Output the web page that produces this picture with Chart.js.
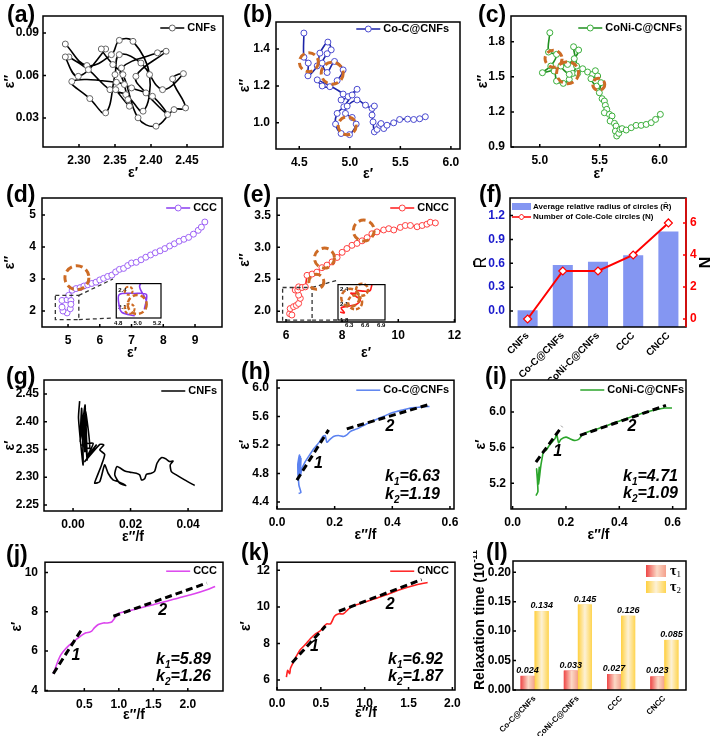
<!DOCTYPE html>
<html>
<head>
<meta charset="utf-8">
<script src="https://cdn.jsdelivr.net/npm/chart.js@4.4.1/dist/chart.umd.min.js"></script>
<style>
body { margin: 0; background: #fff; }
#fig { position: relative; width: 710px; height: 736px; overflow: hidden; }
#fig canvas { position: absolute; }
.tag { position: absolute; font: bold 23px Arial, 'Liberation Sans', sans-serif; line-height: 1; }
</style>
</head>
<body>
<div id="fig"></div>
<script>
// (a) Cole-Cole, CNFs
const aX = [2.281,2.311,2.345,2.356,2.375,2.398,2.389,2.365,2.343,2.313,2.286,2.281,2.299,2.337,2.331,2.347,2.361,2.382,2.407,2.432,2.448,2.430,2.445,2.416,2.386,2.356,2.350,2.337,2.315,2.290,2.352,2.373,2.402,2.423,2.393,2.379,2.421,2.409,2.359,2.363,2.368,2.370,2.351];
const aY = [0.0822,0.0670,0.0747,0.0848,0.0841,0.0606,0.0348,0.0465,0.0500,0.0641,0.0731,0.0731,0.0594,0.0787,0.0787,0.0677,0.0606,0.0301,0.0242,0.0359,0.0371,0.0576,0.0613,0.0500,0.0688,0.0747,0.0606,0.0336,0.0437,0.0557,0.0552,0.0512,0.0453,0.0324,0.0477,0.0594,0.0771,0.0760,0.0653,0.0536,0.0430,0.0383,0.0500];
const aTickX = [2.30, 2.35, 2.40, 2.45];
const aTickY = [0.03, 0.06, 0.09];

// (b) Co-C@CNFs
const bX = [4.546,4.546,4.589,4.586,4.678,4.704,4.783,4.816,4.776,4.727,4.776,4.849,4.934,4.875,4.803,4.727,4.678,4.934,4.914,4.984,5.072,5.023,4.941,4.875,4.859,4.914,4.997,5.063,5.023,4.957,4.974,5.072,5.155,5.220,5.243,5.220,5.230,5.243,5.270,5.296,5.309,5.336,5.368,5.434,5.493,5.572,5.632,5.691,5.747];
const bY = [1.487,1.356,1.324,1.255,1.309,1.378,1.438,1.396,1.375,1.324,1.273,1.333,1.287,1.229,1.196,1.200,1.233,1.156,1.124,1.142,1.182,1.151,1.087,1.051,0.993,0.942,0.936,0.993,1.029,1.051,1.091,1.124,1.096,1.078,1.091,1.042,1.005,0.951,0.964,0.987,0.996,0.969,0.987,1.000,1.018,1.020,1.018,1.022,1.033];
const bTickX = [4.5, 5.0, 5.5, 6.0];
const bTickY = [1.0, 1.2, 1.4];

// (c) CoNi-C@CNFs
const cX = [5.084,5.073,5.140,5.092,5.022,5.120,5.140,5.196,5.246,5.274,5.307,5.282,5.324,5.288,5.232,5.176,5.246,5.316,5.358,5.399,5.441,5.464,5.483,5.427,5.475,5.511,5.497,5.520,5.539,5.547,5.559,5.539,5.581,5.603,5.587,5.623,5.637,5.631,5.642,5.659,5.670,5.687,5.721,5.763,5.804,5.846,5.888,5.930,5.966,6.006];
const cY = [1.877,1.712,1.692,1.592,1.535,1.549,1.464,1.444,1.478,1.529,1.592,1.757,1.729,1.655,1.606,1.592,1.521,1.529,1.569,1.541,1.521,1.552,1.507,1.484,1.421,1.450,1.364,1.313,1.293,1.256,1.222,1.193,1.179,1.165,1.122,1.102,1.079,1.036,0.994,1.017,1.051,1.057,1.045,1.065,1.085,1.085,1.093,1.108,1.136,1.179];
const cTickX = [5.0, 5.5, 6.0];
const cTickY = [0.9, 1.2, 1.5, 1.8];

// (d) CCC
const dX = [4.97,4.84,4.81,4.81,4.97,5.09,5.07,5.09,5.02,5.13,5.25,5.38,5.5,5.62,5.75,5.88,6.0,6.12,6.25,6.38,6.5,6.62,6.75,6.88,7.0,7.15,7.3,7.45,7.6,7.75,7.9,8.05,8.2,8.35,8.5,8.65,8.8,8.95,9.1,9.2,9.31];
const dY = [1.94,2.00,2.12,2.33,2.35,2.33,2.07,2.21,2.49,2.65,2.70,2.73,2.78,2.82,2.86,2.90,2.97,3.02,3.08,3.12,3.22,3.30,3.33,3.42,3.50,3.52,3.60,3.68,3.75,3.82,3.88,3.95,4.03,4.10,4.18,4.24,4.30,4.40,4.52,4.62,4.78];
const dTickX = [5, 6, 7, 8, 9];
const dTickY = [2, 3, 4, 5];
const dInTickX = [4.8, 5.0, 5.2];
const dInTickY = [2.1, 2.4];

// (e) CNCC
const eX = [6.13,6.21,6.15,6.27,6.37,6.45,6.51,6.45,6.33,6.42,6.45,6.57,6.69,6.75,6.93,7.10,7.28,7.46,7.64,7.82,8.00,8.17,8.35,8.53,8.71,8.89,9.06,9.24,9.48,9.66,9.84,10.07,10.25,10.43,10.67,10.85,11.02,11.14,11.32];
const eY = [1.96,1.94,2.04,2.07,2.09,2.12,2.20,2.25,2.33,2.33,2.38,2.37,2.38,2.56,2.58,2.61,2.68,2.72,2.77,2.84,2.92,2.98,3.03,3.06,3.10,3.15,3.21,3.24,3.27,3.29,3.27,3.31,3.34,3.34,3.32,3.34,3.36,3.39,3.38];
const eTickX = [6, 8, 10, 12];
const eTickY = [2.0, 2.5, 3.0, 3.5];
const eInTickX = [6.3, 6.6, 6.9];
const eInTickY = [1.8, 2.1, 2.4];

// (f) circles summary
const fCats = ['CNFs', 'Co-C@CNFs', 'CoNi-C@CNFs', 'CCC', 'CNCC'];
const fRadius = [0.01, 0.58, 0.62, 0.70, 1.00];
const fCount = [0, 3, 3, 4, 6];
const fTickL = [0.0, 0.3, 0.6, 0.9, 1.2];
const fTickR = [0, 2, 4, 6];

// (g) eps' vs eps''/f, CNFs
const gX = [0.0023,0.0019,0.0035,0.0030,0.0025,0.0042,0.0041,0.0037,0.0049,0.0046,0.0044,0.0058,0.0032,0.0070,0.0052,0.0081,0.0041,0.0093,0.0107,0.0093,0.0110,0.0099,0.0081,0.0075,0.0093,0.0110,0.0122,0.0139,0.0156,0.0183,0.0162,0.0145,0.0153,0.0180,0.0197,0.0220,0.0232,0.0238,0.0249,0.0255,0.0272,0.0284,0.0292,0.0307,0.0322,0.0336,0.0348,0.0338,0.0342,0.0359,0.0388,0.0423];
const gY = [2.437,2.406,2.322,2.424,2.364,2.430,2.346,2.412,2.331,2.382,2.418,2.352,2.358,2.361,2.340,2.358,2.328,2.359,2.358,2.349,2.341,2.322,2.298,2.289,2.292,2.322,2.307,2.295,2.292,2.285,2.289,2.304,2.319,2.311,2.309,2.307,2.304,2.295,2.297,2.305,2.307,2.311,2.325,2.335,2.333,2.328,2.329,2.322,2.310,2.304,2.295,2.285];
const gTickX = [0.00, 0.02, 0.04];
const gTickY = [2.25, 2.30, 2.35, 2.40, 2.45];

// (h) Co-C@CNFs
const hX = [0.075,0.083,0.076,0.072,0.078,0.076,0.081,0.074,0.083,0.081,0.087,0.098,0.113,0.129,0.148,0.159,0.167,0.173,0.182,0.196,0.213,0.231,0.242,0.254,0.277,0.300,0.323,0.346,0.369,0.392,0.415,0.439,0.462,0.485,0.508,0.529];
const hY = [4.518,4.532,4.635,4.918,5.059,4.824,5.035,4.729,5.012,4.776,4.871,4.965,5.059,5.153,5.247,5.318,5.332,5.238,5.271,5.318,5.332,5.318,5.341,5.388,5.426,5.473,5.520,5.562,5.600,5.642,5.671,5.694,5.718,5.727,5.736,5.741];
const hFit1X = [0.069, 0.179], hFit1Y = [4.706, 5.412];
const hFit2X = [0.242, 0.525], hFit2Y = [5.426, 5.765];
const hTickX = [0.0, 0.2, 0.4, 0.6];
const hTickY = [4.4, 4.8, 5.2, 5.6, 6.0];

// (i) CoNi-C@CNFs
const iX = [0.0875,0.095,0.09,0.095,0.10,0.0975,0.106,0.1125,0.115,0.125,0.1375,0.15,0.16,0.165,0.1725,0.181,0.20,0.215,0.231,0.2475,0.26,0.281,0.3125,0.35,0.3875,0.425,0.4625,0.50,0.5375,0.569,0.5975];
const iY = [5.061,5.106,5.361,5.211,5.380,5.192,5.399,5.512,5.557,5.568,5.624,5.669,5.707,5.756,5.654,5.692,5.718,5.700,5.681,5.692,5.737,5.775,5.805,5.842,5.887,5.925,5.962,6.000,6.026,6.045,6.045];
const iFit1X = [0.0875, 0.185], iFit1Y = [5.437, 5.838];
const iFit2X = [0.2525, 0.575], iFit2Y = [5.737, 6.075];
const iTickX = [0.0, 0.2, 0.4, 0.6];
const iTickY = [5.2, 5.6, 6.0];

// (j) CCC
const jX = [0.05,0.074,0.108,0.157,0.219,0.282,0.35,0.413,0.476,0.524,0.573,0.606,0.645,0.703,0.776,0.834,0.897,0.935,0.994,1.114,1.308,1.501,1.695,1.889,2.082,2.276,2.396];
const jY = [4.85,5.07,5.41,5.79,6.08,6.30,6.50,6.67,6.84,6.93,6.96,7.01,7.18,7.35,7.43,7.43,7.48,7.65,7.91,8.02,8.19,8.36,8.53,8.73,8.90,9.12,9.29];
const jFit1X = [0.05, 0.476], jFit1Y = [4.85, 7.18];
const jFit2X = [0.921, 2.276], jFit2Y = [7.77, 9.46];
const jTickX = [0.5, 1.0, 1.5, 2.0];
const jTickY = [4, 6, 8, 10];

// (k) CNCC
const kX = [0.107,0.122,0.145,0.153,0.183,0.221,0.267,0.324,0.382,0.439,0.489,0.527,0.565,0.611,0.656,0.706,0.756,0.809,0.859,0.935,1.031,1.145,1.260,1.374,1.489,1.603,1.718];
const kY = [6.16,6.53,6.35,6.64,6.95,7.31,7.67,7.95,8.27,8.53,8.67,8.89,9.07,9.07,9.49,9.62,9.62,9.85,10.04,10.16,10.31,10.49,10.67,10.89,11.07,11.22,11.33];
const kFit1X = [0.172, 0.553], kFit1Y = [6.95, 8.95];
const kFit2X = [0.706, 1.649], kFit2Y = [9.76, 11.49];
const kTickX = [0.0, 0.5, 1.0, 1.5, 2.0];
const kTickY = [6, 8, 10, 12];

// (l) relaxation times
const lCats = ['Co-C@CNFs', 'CoNi-C@CNFs', 'CCC', 'CNCC'];
const tau1 = [0.024, 0.033, 0.027, 0.023];
const tau2 = [0.134, 0.145, 0.126, 0.085];
const lTickY = [0.00, 0.05, 0.10, 0.15, 0.20];

const FONT = "Arial, 'Liberation Sans', sans-serif";
const SERIF = "'Liberation Serif', 'Times New Roman', serif";
const ORANGE = '#cd6b25';
Chart.defaults.font.family = FONT;
Chart.defaults.color = '#000';

const fig = document.getElementById('fig');

function addCanvas(x, y, w, h) {
  const c = document.createElement('canvas');
  c.width = w; c.height = h;
  c.style.left = x + 'px'; c.style.top = y + 'px';
  c.style.width = w + 'px'; c.style.height = h + 'px';
  fig.appendChild(c);
  return c;
}

function pts(xs, ys) { return xs.map((x, i) => ({x: x, y: ys[i]})); }

function lineSet(xs, ys, color, mark, tension) {
  return {
    data: pts(xs, ys), showLine: true, borderColor: color, borderWidth: 1.6, tension: tension,
    pointRadius: mark ? 3 : 0, pointBackgroundColor: '#fff', pointBorderColor: mark || color, pointBorderWidth: 1
  };
}
function fitSet(xs, ys) {
  return {data: pts(xs, ys), showLine: true, borderColor: '#000', borderWidth: 3, borderDash: [7, 4], pointRadius: 0};
}

// draw a run of text pieces: [text, font, dy]
function rich(ctx, parts, x, y, align) {
  let w = 0;
  parts.forEach(p => { ctx.font = p[1]; w += ctx.measureText(p[0]).width; });
  let cx = align === 'right' ? x - w : align === 'center' ? x - w / 2 : x;
  parts.forEach(p => { ctx.font = p[1]; ctx.fillText(p[0], cx, y + (p[2] || 0)); cx += ctx.measureText(p[0]).width; });
}

function axisOpts(o, pos, size, titleOff) {
  const fs = o.tsize || 14, lh = fs * 1.2;
  return {
    type: 'linear', position: pos, min: o.min, max: o.max,
    afterBuildTicks: s => { s.ticks = o.ticks.map(v => ({value: v})); },
    afterFit: s => { if (s.isHorizontal()) s.height = size; else s.width = size; },
    grid: {display: false, drawTicks: false},
    border: {display: false},
    ticks: {
      autoSkip: false, maxRotation: 0, padding: o.pad == null ? 6 : o.pad, mirror: !!o.mirror,
      color: o.color || '#000', font: {weight: 'bold', size: o.fsize || 12},
      callback: v => Number(v).toFixed(o.dec)
    },
    title: {
      display: !!o.title, text: o.title || '', color: '#000',
      font: {weight: o.tweight || 'bold', size: fs},
      padding: {top: titleOff - lh / 2, bottom: titleOff - lh / 2}
    }
  };
}

// box round the plot, short inward ticks, optional white fill
const framePlugin = {
  id: 'frame',
  beforeDraw(chart, args, o) {
    if (!o.bg) return;
    const {ctx, chartArea: a} = chart;
    ctx.save(); ctx.fillStyle = '#fff';
    ctx.fillRect(a.left, a.top, a.right - a.left, a.bottom - a.top);
    ctx.restore();
  },
  afterDraw(chart, args, o) {
    const {ctx, chartArea: a} = chart;
    const tl = o.tl == null ? 3 : o.tl;
    ctx.save();
    ctx.lineWidth = o.lw || 1.5;
    ctx.strokeStyle = '#000';
    ctx.strokeRect(a.left, a.top, a.right - a.left, a.bottom - a.top);
    Object.values(chart.scales).forEach(s => {
      if (s.type === 'category' || tl === 0) return;
      ctx.strokeStyle = s.id === 'y2' ? '#ff0000' : '#000';
      ctx.beginPath();
      s.ticks.forEach(t => {
        const p = s.getPixelForValue(t.value);
        if (s.isHorizontal()) { ctx.moveTo(p, a.bottom); ctx.lineTo(p, a.bottom - tl); }
        else if (s.position === 'right') { ctx.moveTo(a.right, p); ctx.lineTo(a.right - tl, p); }
        else { ctx.moveTo(a.left, p); ctx.lineTo(a.left + tl, p); }
      });
      ctx.stroke();
    });
    if (o.right) {
      ctx.strokeStyle = o.right;
      ctx.beginPath(); ctx.moveTo(a.right, a.top); ctx.lineTo(a.right, a.bottom); ctx.stroke();
    }
    ctx.restore();
  }
};

// legend sample inside the top right corner
const legendPlugin = {
  id: 'inLegend',
  afterDraw(chart, args, o) {
    if (!o || !o.text) return;
    const {ctx, chartArea: a} = chart;
    ctx.save();
    ctx.font = 'bold 11px ' + FONT;
    const tw = ctx.measureText(o.text).width;
    const tx = a.right - o.dx - tw, y = a.top + o.dy;
    ctx.strokeStyle = o.color; ctx.lineWidth = 1.5;
    ctx.beginPath(); ctx.moveTo(tx - 27, y); ctx.lineTo(tx - 3, y); ctx.stroke();
    if (o.marker) {
      ctx.beginPath(); ctx.arc(tx - 15, y, 3, 0, 2 * Math.PI);
      ctx.fillStyle = '#fff'; ctx.fill();
      ctx.strokeStyle = o.marker; ctx.lineWidth = 1; ctx.stroke();
    }
    ctx.fillStyle = '#000'; ctx.textBaseline = 'middle';
    ctx.fillText(o.text, tx, y);
    ctx.restore();
  }
};

// circles, zoom box, fit numbers, slope text
const notePlugin = {
  id: 'notes',
  afterDatasetsDraw(chart, args, o) {
    const {ctx, chartArea: a, scales} = chart;
    const xs = scales.x, ys = scales.y;
    ctx.save();
    if (o.zoom) {
      const z = o.zoom;
      const x1 = xs.getPixelForValue(z.box[0]), x2 = xs.getPixelForValue(z.box[1]);
      const y1 = ys.getPixelForValue(z.box[2]), y2 = ys.getPixelForValue(z.box[3]);
      ctx.setLineDash([4, 3]); ctx.lineWidth = 1.3; ctx.strokeStyle = '#333';
      ctx.strokeRect(x1, y1, x2 - x1, y2 - y1);
      const ix = z.to[0] - z.org[0], iy1 = z.to[1] - z.org[1], iy2 = z.to[3] - z.org[1];
      ctx.beginPath(); ctx.moveTo(x2, y1); ctx.lineTo(ix, iy1);
      ctx.moveTo(x2, y2); ctx.lineTo(ix, iy2); ctx.stroke();
    }
    (o.circles || []).forEach(c => {
      ctx.setLineDash(c.dash || [7, 4]); ctx.lineWidth = c.lw || 3; ctx.strokeStyle = ORANGE;
      ctx.beginPath();
      ctx.arc(xs.getPixelForValue(c.x), ys.getPixelForValue(c.y), c.r, 0, 2 * Math.PI);
      ctx.stroke();
    });
    ctx.setLineDash([]);
    ctx.fillStyle = '#000'; ctx.textBaseline = 'middle';
    (o.nums || []).forEach(n => {
      ctx.font = 'italic bold 16px ' + FONT; ctx.textAlign = 'center';
      ctx.fillText(n.t, xs.getPixelForValue(n.x), ys.getPixelForValue(n.y));
    });
    ctx.textAlign = 'left';
    (o.k || []).forEach(k => {
      const big = 'italic bold 16px ' + FONT, small = 'italic bold 10px ' + FONT;
      rich(ctx, [['k', big], [k.i, small, 5], ['=' + k.v, big]], a.right - k.dx, a.bottom - k.dy, 'right');
    });
    ctx.restore();
  }
};

function scatterPanel(p) {
  const [cx, cy, cw, ch] = p.cell, [L, T, R, B] = p.area;
  const cv = addCanvas(cx, cy, cw, ch);
  return new Chart(cv, {
    type: 'scatter',
    data: {datasets: p.datasets},
    options: {
      responsive: false, animation: false, events: [], devicePixelRatio: 1,
      layout: {padding: {left: 0, top: T - cy, right: cx + cw - R, bottom: 0}},
      plugins: {
        legend: {display: false}, tooltip: {enabled: false},
        inLegend: p.legend || {}, notes: p.notes || {}, frame: p.frame || {}
      },
      scales: {
        x: axisOpts(p.x, 'bottom', cy + ch - B, p.x.title ? cy + ch - p.x.at : 0),
        y: axisOpts(p.y, 'left', L - cx, p.y.title ? p.y.at - cx : 0)
      }
    },
    plugins: [notePlugin, framePlugin, legendPlugin]
  });
}

// ---------- row 1: Cole-Cole plots ----------
scatterPanel({
  cell: [0, 0, 237, 180], area: [43, 16, 223, 147],
  x: {min: 2.25, max: 2.50, ticks: aTickX, dec: 2, title: 'ε′', at: 173},
  y: {min: 0.0095, max: 0.102, ticks: aTickY, dec: 2, title: 'ε″', at: 10, pad: 4},
  datasets: [lineSet(aX, aY, '#000', '#666', 0.4)],
  legend: {text: 'CNFs', color: '#000', marker: '#666', dx: 7, dy: 12}
});
scatterPanel({
  cell: [237, 0, 236, 180], area: [276, 22, 460, 149],
  x: {min: 4.27, max: 6.09, ticks: bTickX, dec: 1, title: 'ε′', at: 174},
  y: {min: 0.858, max: 1.547, ticks: bTickY, dec: 1, title: 'ε″', at: 245},
  datasets: [lineSet(bX, bY, '#1c24a8', '#4a4ad0', 0.3)],
  legend: {text: 'Co-C@CNFs', color: '#1c24a8', marker: '#4a4ad0', dx: 11, dy: 7},
  notes: {circles: [{x: 4.595, y: 1.329, r: 9.5}, {x: 4.826, y: 1.269, r: 11}, {x: 4.974, y: 0.984, r: 9}]}
});
scatterPanel({
  cell: [473, 0, 237, 180], area: [511, 16, 686, 147],
  x: {min: 4.76, max: 6.22, ticks: cTickX, dec: 1, title: 'ε′', at: 174},
  y: {min: 0.9, max: 2.02, ticks: cTickY, dec: 1, title: 'ε″', at: 483},
  datasets: [lineSet(cX, cY, '#1f8f1f', '#3aae3a', 0.3)],
  legend: {text: 'CoNi-C@CNFs', color: '#1f8f1f', marker: '#3aae3a', dx: 4, dy: 12},
  notes: {circles: [{x: 5.115, y: 1.655, r: 8.5}, {x: 5.232, y: 1.535, r: 11}, {x: 5.492, y: 1.436, r: 6}]}
});

// ---------- row 2 ----------
scatterPanel({
  cell: [0, 180, 237, 185], area: [42, 198, 222, 327],
  x: {min: 4.18, max: 9.85, ticks: dTickX, dec: 0, title: 'ε′', at: 353},
  y: {min: 1.5, max: 5.53, ticks: dTickY, dec: 0, title: 'ε″', at: 10},
  datasets: [lineSet(dX, dY, '#8a3cf0', '#9d62f5', 0)],
  legend: {text: 'CCC', color: '#8a3cf0', marker: '#9d62f5', dx: 5, dy: 10},
  notes: {
    circles: [{x: 5.28, y: 3.04, r: 12}],
    zoom: {box: [4.6, 5.34, 2.49, 1.73], to: [113, 279, 161, 318], org: [0, 180]}
  }
});
scatterPanel({
  cell: [112, 278, 56, 54], area: [113, 279, 161, 318],
  x: {min: 4.78, max: 5.24, ticks: dInTickX, dec: 1, fsize: 6, pad: 2},
  y: {min: 1.9, max: 2.53, ticks: dInTickY, dec: 1, fsize: 6, pad: 2, mirror: true},
  datasets: [lineSet(dX.slice(0, 12), dY.slice(0, 12), '#8a3cf0', null, 0.3)],
  notes: {circles: [{x: 4.907, y: 2.4, r: 4, lw: 2, dash: [3, 2]}, {x: 4.995, y: 2.147, r: 9.5, lw: 2.5, dash: [5, 3]}, {x: 4.917, y: 2.068, r: 5, lw: 2, dash: [3, 2]}]},
  frame: {bg: true, tl: 0, lw: 1.2}
});
scatterPanel({
  cell: [237, 180, 236, 185], area: [277, 198, 455, 322],
  x: {min: 5.68, max: 12.02, ticks: eTickX, dec: 0, title: 'ε′', at: 353},
  y: {min: 1.83, max: 3.77, ticks: eTickY, dec: 1, title: 'ε″', at: 245},
  datasets: [lineSet(eX, eY, '#ff1a1a', '#ff4040', 0)],
  legend: {text: 'CNCC', color: '#ff1a1a', marker: '#ff4040', dx: 6, dy: 10},
  notes: {
    circles: [{x: 7.37, y: 2.83, r: 10}, {x: 8.77, y: 3.26, r: 10.5}, {x: 7.08, y: 2.46, r: 7.5}],
    zoom: {box: [5.88, 6.93, 2.37, 1.86], to: [338, 280, 385, 320], org: [237, 180]}
  }
});
scatterPanel({
  cell: [337, 279, 54, 54], area: [338, 280, 385, 320],
  x: {min: 6.09, max: 6.97, ticks: eInTickX, dec: 1, fsize: 6, pad: 2},
  y: {min: 1.8, max: 2.5, ticks: eInTickY, dec: 1, fsize: 6, pad: 2, mirror: true},
  datasets: [lineSet(eX.slice(0, 15), eY.slice(0, 15), '#ff1a1a', null, 0.3)],
  notes: {circles: [{x: 6.54, y: 2.4, r: 6, lw: 2.5, dash: [4, 2]}, {x: 6.32, y: 2.24, r: 9, lw: 2.5, dash: [5, 3]}, {x: 6.41, y: 2.15, r: 7, lw: 2.5, dash: [4, 2]}]},
  frame: {bg: true, tl: 0, lw: 1.2}
});

// (f) bars + line on two axes
(function () {
  const cv = addCanvas(473, 180, 237, 200);
  const fLegend = {
    id: 'fLegend',
    afterDraw(chart) {
      const {ctx, chartArea: a} = chart;
      ctx.save();
      ctx.fillStyle = '#8496f2';
      ctx.fillRect(a.left + 2, a.top + 5, 19, 7);
      ctx.strokeStyle = '#ff0000'; ctx.lineWidth = 1.5;
      ctx.beginPath(); ctx.moveTo(a.left + 2, a.top + 19); ctx.lineTo(a.left + 21, a.top + 19); ctx.stroke();
      ctx.fillStyle = '#fff'; ctx.lineWidth = 1;
      ctx.beginPath(); ctx.moveTo(a.left + 11.5, a.top + 16); ctx.lineTo(a.left + 14.5, a.top + 19);
      ctx.lineTo(a.left + 11.5, a.top + 22); ctx.lineTo(a.left + 8.5, a.top + 19); ctx.closePath();
      ctx.fill(); ctx.stroke();
      ctx.fillStyle = '#000'; ctx.textBaseline = 'middle';
      ctx.font = 'bold 8px ' + FONT;
      ctx.fillText('Average relative radius of circles (R\u0304)', a.left + 23, a.top + 8.5);
      ctx.fillText('Number of Cole-Cole circles (N)', a.left + 23, a.top + 19);
      ctx.restore();
    }
  };
  const yl = axisOpts({min: -0.2, max: 1.42, ticks: fTickL, dec: 1, color: '#1a1acc', title: 'R\u0304', tsize: 16, tweight: 'normal', pad: 5}, 'left', 37, 9);
  const yr = axisOpts({min: -0.5, max: 7.56, ticks: fTickR, dec: 0, color: '#ff0000', title: 'N', tsize: 16, pad: 4}, 'right', 24, 7);
  new Chart(cv, {
    type: 'bar',
    data: {
      labels: fCats,
      datasets: [
        {type: 'line', data: fCount, yAxisID: 'y2', order: 0, borderColor: '#ff0000', borderWidth: 2,
         pointStyle: 'rectRot', pointRadius: 4, pointBackgroundColor: '#fff', pointBorderColor: '#ff0000', pointBorderWidth: 1.2},
        {data: fRadius, yAxisID: 'y', order: 1, base: -0.2, backgroundColor: '#8496f2', barPercentage: 1, categoryPercentage: 0.57}
      ]
    },
    options: {
      responsive: false, animation: false, events: [], devicePixelRatio: 1,
      layout: {padding: {left: 0, top: 18, right: 0, bottom: 0}},
      plugins: {legend: {display: false}, tooltip: {enabled: false}, frame: {right: '#ff0000'}},
      scales: {
        x: {
          type: 'category', offset: true,
          afterFit: s => { s.height = 53; },
          grid: {display: false, drawTicks: false}, border: {display: false},
          ticks: {autoSkip: false, minRotation: 45, maxRotation: 45, padding: 3, font: {weight: 'bold', size: 10}}
        },
        y: yl, y2: yr
      }
    },
    plugins: [framePlugin, fLegend]
  });
})();

// ---------- row 3: eps' against eps''/f ----------
scatterPanel({
  cell: [0, 365, 237, 183], area: [44, 380, 222, 511],
  x: {min: -0.0101, max: 0.0518, ticks: gTickX, dec: 2, title: 'ε″/f', at: 537},
  y: {min: 2.239, max: 2.475, ticks: gTickY, dec: 2, title: 'ε′', at: 10, pad: 5},
  datasets: [lineSet(gX, gY, '#000', null, 0.2)],
  legend: {text: 'CNFs', color: '#000', dx: 5, dy: 11}
});
scatterPanel({
  cell: [237, 365, 236, 183], area: [277, 380, 454, 509],
  x: {min: 0, max: 0.614, ticks: hTickX, dec: 1, title: 'ε″/f', at: 535},
  y: {min: 4.3, max: 6.11, ticks: hTickY, dec: 1, title: 'ε′', at: 245, pad: 8},
  datasets: [fitSet(hFit1X, hFit1Y), fitSet(hFit2X, hFit2Y), lineSet(hX, hY, '#5b82f0', null, 0.2)],
  legend: {text: 'Co-C@CNFs', color: '#5b82f0', dx: 5, dy: 10},
  notes: {
    nums: [{t: '1', x: 0.144, y: 4.94}, {t: '2', x: 0.392, y: 5.46}],
    k: [{i: '1', v: '6.63', dx: 14, dy: 32}, {i: '2', v: '1.19', dx: 14, dy: 14}]
  }
});
scatterPanel({
  cell: [473, 365, 237, 183], area: [511, 380, 686, 509],
  x: {min: -0.006, max: 0.65, ticks: iTickX, dec: 1, title: 'ε″/f', at: 535},
  y: {min: 4.91, max: 6.36, ticks: iTickY, dec: 1, title: 'ε′', at: 481, pad: 5},
  datasets: [fitSet(iFit1X, iFit1Y), fitSet(iFit2X, iFit2Y), lineSet(iX, iY, '#2ba52b', null, 0.2)],
  legend: {text: 'CoNi-C@CNFs', color: '#2ba52b', dx: 2, dy: 10},
  notes: {
    nums: [{t: '1', x: 0.169, y: 5.557}, {t: '2', x: 0.4475, y: 5.831}],
    k: [{i: '1', v: '4.71', dx: 8, dy: 32}, {i: '2', v: '1.09', dx: 8, dy: 15}]
  }
});

// ---------- row 4 ----------
scatterPanel({
  cell: [0, 548, 237, 188], area: [45, 562, 223, 691],
  x: {min: -0.07, max: 2.51, ticks: jTickX, dec: 1, title: 'ε″/f', at: 715},
  y: {min: 3.97, max: 10.52, ticks: jTickY, dec: 0, title: 'ε′', at: 17, pad: 7},
  datasets: [fitSet(jFit1X, jFit1Y), fitSet(jFit2X, jFit2Y), lineSet(jX, jY, '#dc45ee', null, 0.2)],
  legend: {text: 'CCC', color: '#dc45ee', dx: 6, dy: 9},
  notes: {
    nums: [{t: '1', x: 0.379, y: 5.79}, {t: '2', x: 1.637, y: 8.06}],
    k: [{i: '1', v: '5.89', dx: 12, dy: 31}, {i: '2', v: '1.26', dx: 12, dy: 14}]
  }
});
scatterPanel({
  cell: [237, 548, 236, 188], area: [277, 562, 455, 690],
  x: {min: 0, max: 2.03, ticks: kTickX, dec: 1, title: 'ε″/f', at: 713},
  y: {min: 5.46, max: 12.44, ticks: kTickY, dec: 0, title: 'ε′', at: 246, pad: 7},
  datasets: [fitSet(kFit1X, kFit1Y), fitSet(kFit2X, kFit2Y), lineSet(kX, kY, '#ff2020', null, 0.2)],
  legend: {text: 'CNCC', color: '#ff2020', dx: 6, dy: 9},
  notes: {
    nums: [{t: '1', x: 0.427, y: 7.85}, {t: '2', x: 1.29, y: 10.13}],
    k: [{i: '1', v: '6.92', dx: 12, dy: 30}, {i: '2', v: '1.87', dx: 12, dy: 13}]
  }
});

// (l) grouped gradient bars
(function () {
  const cv = addCanvas(473, 548, 237, 188);
  const grads = [
    [[0, '#ee4646'], [0.55, '#fbd9c6'], [1, '#f4a08c']],
    [[0, '#ffd03e'], [0.5, '#fdf1d6'], [1, '#ffd550']]
  ];
  const paint = (ctx, x0, x1, stops) => {
    const g = ctx.createLinearGradient(x0, 0, x1, 0);
    stops.forEach(s => g.addColorStop(s[0], s[1]));
    return g;
  };
  const lDeco = {
    id: 'lDeco',
    afterDatasetsDraw(chart) {
      const {ctx, chartArea: a} = chart;
      const tops = [];
      ctx.save();
      chart.data.datasets.forEach((ds, di) => {
        chart.getDatasetMeta(di).data.forEach((bar, i) => {
          const {x, y, base, width} = bar.getProps(['x', 'y', 'base', 'width'], true);
          ctx.fillStyle = paint(ctx, x - width / 2, x + width / 2, grads[di]);
          ctx.fillRect(x - width / 2, y, width, base - y);
          tops.push([ds.data[i].toFixed(3), x, y]);
        });
      });
      ctx.fillStyle = '#000'; ctx.textAlign = 'center'; ctx.textBaseline = 'bottom';
      ctx.font = 'italic bold 9px ' + FONT;
      tops.forEach(t => ctx.fillText(t[0], t[1], t[2] - 1));
      // legend
      ctx.textAlign = 'left'; ctx.textBaseline = 'middle';
      [['1', 4], ['2', 20]].forEach((r, k) => {
        ctx.fillStyle = paint(ctx, a.right - 40, a.right - 20, grads[k]);
        ctx.fillRect(a.right - 40, a.top + r[1], 20, 12);
        ctx.fillStyle = '#000';
        rich(ctx, [['τ', 'bold 14px ' + SERIF], [r[0], '9px ' + SERIF, 4]], a.right - 16, a.top + r[1] + 6, 'left');
      });
      ctx.restore();
    },
    afterDraw(chart) {
      const {ctx, chartArea: a} = chart;
      ctx.save();
      ctx.fillStyle = '#000'; ctx.textBaseline = 'middle'; ctx.textAlign = 'left';
      // y axis title, reading upward from the plot bottom
      ctx.translate(7, a.bottom);
      ctx.rotate(-Math.PI / 2);
      rich(ctx, [['Relaxation time (10', 'bold 14px ' + FONT], ['-11', 'bold 9px ' + FONT, -5], [' s)', 'bold 14px ' + FONT]], 0, 0, 'left');
      ctx.restore();
    }
  };
  new Chart(cv, {
    type: 'bar',
    data: {
      labels: lCats,
      datasets: [
        {data: tau1, backgroundColor: '#f06060', categoryPercentage: 0.65, barPercentage: 1},
        {data: tau2, backgroundColor: '#ffd060', categoryPercentage: 0.65, barPercentage: 1}
      ]
    },
    options: {
      responsive: false, animation: false, events: [], devicePixelRatio: 1,
      layout: {padding: {left: 0, top: 13, right: 24, bottom: 0}},
      plugins: {legend: {display: false}, tooltip: {enabled: false}, frame: {}},
      scales: {
        x: {
          type: 'category', offset: true,
          afterFit: s => { s.height = 46; },
          grid: {display: false, drawTicks: false}, border: {display: false},
          ticks: {autoSkip: false, minRotation: 45, maxRotation: 45, padding: 4, font: {weight: 'bold', size: 8}}
        },
        y: axisOpts({min: 0, max: 0.219, ticks: lTickY, dec: 2, pad: 2, fsize: 12}, 'left', 40, 0)
      }
    },
    plugins: [lDeco, framePlugin]
  });
})();

// panel letters
[['(a)', 7, 3], ['(b)', 243, 3], ['(c)', 478, 3], ['(d)', 6, 183], ['(e)', 243, 183], ['(f)', 479, 183],
 ['(g)', 6, 365], ['(h)', 241, 360], ['(i)', 485, 365], ['(j)', 6, 543], ['(k)', 241, 541], ['(l)', 486, 541]]
  .forEach(t => {
    const d = document.createElement('div');
    d.className = 'tag'; d.textContent = t[0];
    d.style.left = t[1] + 'px'; d.style.top = t[2] + 'px';
    fig.appendChild(d);
  });
</script>
</body>
</html>
